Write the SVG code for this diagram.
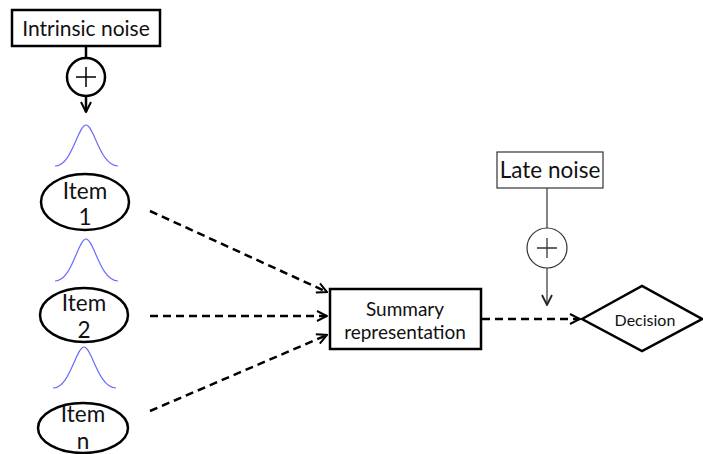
<svg xmlns="http://www.w3.org/2000/svg" width="703" height="454" viewBox="0 0 703 454">
<defs>
<style>
text{font-family:Lato,"Liberation Sans",sans-serif;fill:#111;text-anchor:middle}
.t{font-size:21px}
.i{font-size:22.5px}
.s{font-size:19px}
.thick{fill:#fff;stroke:#000;stroke-width:2.5}
.thin{fill:#fff;stroke:#333;stroke-width:1.2}
.g{fill:none;stroke:#6a6aff;stroke-width:1.2}
.d{fill:none;stroke:#000;stroke-width:2.5;stroke-dasharray:8,5}
</style>
<marker id="a" viewBox="0 0 12 12" refX="11" refY="6" markerWidth="12" markerHeight="12" markerUnits="userSpaceOnUse" orient="auto">
<path d="M1,1 L11,6 L1,11" fill="none" stroke="#000" stroke-width="2"/>
</marker>
<marker id="a2" viewBox="0 0 12 12" refX="11" refY="6" markerWidth="12" markerHeight="12" markerUnits="userSpaceOnUse" orient="auto">
<path d="M1,1 L11,6 L1,11" fill="none" stroke="#222" stroke-width="1.8"/>
</marker>
</defs>
<g id="connectors">
<line x1="86" y1="47" x2="86" y2="57" stroke="#000" stroke-width="2.5"/>
<line x1="86" y1="97" x2="86" y2="112" stroke="#000" stroke-width="2.5" marker-end="url(#a)"/>
<line class="d" x1="150" y1="211" x2="327" y2="292" marker-end="url(#a)"/>
<line class="d" x1="150" y1="316" x2="327" y2="316" marker-end="url(#a)"/>
<line class="d" x1="150" y1="411" x2="327" y2="335" marker-end="url(#a)"/>
<line class="d" x1="482" y1="319" x2="580" y2="319" marker-end="url(#a)"/>
<line x1="547" y1="188" x2="547" y2="228" stroke="#333" stroke-width="1.2"/>
<line x1="547" y1="268" x2="547" y2="305" stroke="#333" stroke-width="1.2" marker-end="url(#a2)"/>
</g>
<g id="intrinsic-noise">
<rect class="thick" x="12" y="10" width="148" height="36"/>
<text class="t" x="86" y="36">Intrinsic noise</text>
</g>
<g id="plus1">
<circle class="thick" cx="86" cy="77" r="19"/>
<path d="M76,77 H96 M86,67 V87" stroke="#000" stroke-width="1.5"/>
</g>
<g id="gauss1"><path class="g" d="M55,166 C72,166 78,125 86,125 C94,125 100,166 118,166"/></g>
<g id="gauss2"><path class="g" d="M55,281 C72,281 78,239 86,239 C94,239 100,281 118,281"/></g>
<g id="gauss3"><path class="g" d="M53,388 C70,388 76,347 84,347 C92,347 98,388 116,388"/></g>
<g id="item1">
<ellipse class="thick" cx="85" cy="202" rx="44" ry="28"/>
<text class="i" x="85" y="199">Item</text>
<text class="i" x="85" y="225">1</text>
</g>
<g id="item2">
<ellipse class="thick" cx="84" cy="315" rx="44" ry="27"/>
<text class="i" x="84" y="311">Item</text>
<text class="i" x="84" y="338">2</text>
</g>
<g id="itemn">
<ellipse class="thick" cx="83" cy="428" rx="45" ry="25"/>
<text class="i" x="83" y="422">Item</text>
<text class="i" x="83" y="449">n</text>
</g>
<g id="summary">
<rect class="thick" x="330" y="289" width="151" height="60"/>
<text class="s" x="405" y="316">Summary</text>
<text class="s" x="405" y="339">representation</text>
</g>
<g id="late-noise">
<rect class="thin" x="497" y="152" width="106" height="36"/>
<text class="i" x="550" y="178">Late noise</text>
</g>
<g id="plus2">
<circle class="thin" cx="547" cy="248" r="20"/>
<path d="M537,248 H557 M547,238 V258" stroke="#333" stroke-width="1.3"/>
</g>
<g id="decision">
<polygon class="thick" points="582,319 642,286 702,319 642,351"/>
<text x="645" y="326" style="font-size:16px">Decision</text>
</g>
</svg>
